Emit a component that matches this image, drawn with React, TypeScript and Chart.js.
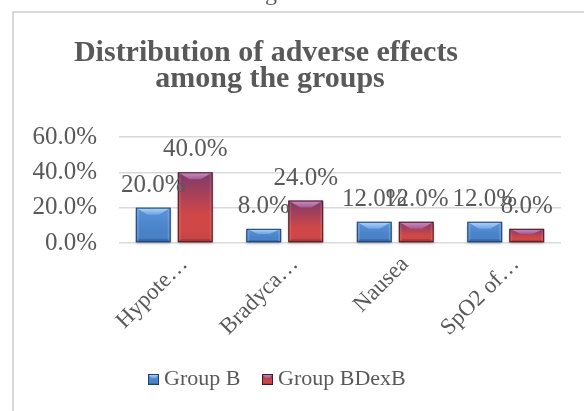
import { useEffect, useRef } from "react";
import { Chart, registerables } from "chart.js";

Chart.register(...registerables);

const categories = ["Hypote…", "Bradyca…", "Nausea", "SpO2 of…"];
const groupB = [20, 8, 12, 12];
const groupBDexB = [40, 24, 12, 8];
const seriesNames = ["Group B", "Group BDexB"];
const yTickValues = [0, 20, 40, 60];
const titleLines = ["Distribution of adverse effects", "among the groups"];

const FONT = "'Liberation Serif', 'Times New Roman', serif";
const TEXT = "#595959";

type Pal = {
  bodyTop: string;
  bodyMid: string;
  bodyBottom: string;
  fade: number;
  top: [string, string];
  side: string;
  bottom: string;
  outline: string;
};

const palettes: Pal[] = [
  {
    bodyTop: "#5A94DB",
    bodyMid: "#4A82C8",
    bodyBottom: "#3B6FB2",
    fade: 30,
    top: ["#B5D7FA", "#6CA4E4"],
    side: "rgba(255,255,255,0.14)",
    bottom: "#2C5A94",
    outline: "#22416A",
  },
  {
    bodyTop: "#7C3A6C",
    bodyMid: "#CF4747",
    bodyBottom: "#C24343",
    fade: 42,
    top: ["#CC92C6", "#A35A8E"],
    side: "rgba(255,255,255,0.10)",
    bottom: "#8C2E30",
    outline: "#4A1B22",
  },
];

function drawBevelBar(ctx: CanvasRenderingContext2D, l: number, t: number, r: number, b: number, p: Pal, shadow = true) {
  const w = r - l;
  const h = b - t;
  if (h <= 0) return;
  const d = Math.min(7, h * 0.38);
  const dx = Math.min(12, w * 0.34);
  const s = Math.min(3, w * 0.1);
  ctx.save();
  if (shadow) {
    ctx.shadowColor = "rgba(60,60,80,0.35)";
    ctx.shadowBlur = 3;
    ctx.shadowOffsetY = 2;
  }
  const g = ctx.createLinearGradient(0, t, 0, b);
  const fadeStop = Math.min(0.65, p.fade / h);
  g.addColorStop(0, p.bodyTop);
  g.addColorStop(fadeStop, p.bodyMid);
  g.addColorStop(Math.max(fadeStop, 0.85), p.bodyMid);
  g.addColorStop(1, p.bodyBottom);
  ctx.fillStyle = g;
  ctx.fillRect(l, t, w, h);
  ctx.restore();
  ctx.save();
  // side strips
  ctx.fillStyle = p.side;
  ctx.fillRect(l, t, s, h);
  ctx.fillRect(r - s, t, s, h);
  // top face
  const tg = ctx.createLinearGradient(0, t, 0, t + d);
  tg.addColorStop(0, p.top[0]);
  tg.addColorStop(1, p.top[1]);
  ctx.fillStyle = tg;
  ctx.beginPath();
  ctx.moveTo(l, t);
  ctx.lineTo(r, t);
  ctx.lineTo(r - dx, t + d);
  ctx.lineTo(l + dx, t + d);
  ctx.closePath();
  ctx.fill();
  // bottom face
  const bd = Math.min(3, h * 0.15);
  ctx.fillStyle = p.bottom;
  ctx.globalAlpha = 0.55;
  ctx.beginPath();
  ctx.moveTo(l, b);
  ctx.lineTo(l + s, b - bd);
  ctx.lineTo(r - s, b - bd);
  ctx.lineTo(r, b);
  ctx.closePath();
  ctx.fill();
  ctx.globalAlpha = 1;
  // outline
  ctx.strokeStyle = p.outline;
  ctx.lineWidth = 1;
  ctx.strokeRect(l + 0.5, t + 0.5, w - 1, h - 1);
  ctx.restore();
}

const decorPlugin = {
  id: "decor",
  beforeDraw(chart: any) {
    const ctx: CanvasRenderingContext2D = chart.ctx;
    ctx.save();
    ctx.fillStyle = "#ffffff";
    ctx.fillRect(0, 0, chart.width, chart.height);
    // fragment of text above the chart
    ctx.fillStyle = TEXT;
    ctx.font = `24px ${FONT}`;
    ctx.textAlign = "center";
    ctx.textBaseline = "alphabetic";
    ctx.fillText("g", 271, 0);
    // frame
    ctx.strokeStyle = "#D9D9D9";
    ctx.lineWidth = 2;
    ctx.beginPath();
    ctx.moveTo(13, chart.height + 2);
    ctx.lineTo(13, 12);
    ctx.lineTo(chart.width + 2, 12);
    ctx.stroke();
    ctx.restore();
  },
  afterDatasetsDraw(chart: any) {
    const ctx: CanvasRenderingContext2D = chart.ctx;
    chart.data.datasets.forEach((ds: any, di: number) => {
      const meta = chart.getDatasetMeta(di);
      meta.data.forEach((el: any) => {
        const { x, y, base, width } = el.getProps(["x", "y", "base", "width"], true);
        drawBevelBar(ctx, x - width / 2, y, x + width / 2, base, palettes[di]);
      });
    });
    ctx.save();
    ctx.fillStyle = TEXT;
    ctx.font = `25px ${FONT}`;
    ctx.textAlign = "center";
    ctx.textBaseline = "alphabetic";
    chart.data.datasets.forEach((ds: any, di: number) => {
      const meta = chart.getDatasetMeta(di);
      meta.data.forEach((el: any, i: number) => {
        const { x, y } = el.getProps(["x", "y"], true);
        ctx.fillText(ds.data[i].toFixed(1) + "%", x, y - 16);
      });
    });
    ctx.restore();
  },
  afterDraw(chart: any) {
    const ctx: CanvasRenderingContext2D = chart.ctx;
    ctx.save();
    ctx.fillStyle = TEXT;
    ctx.font = `bold 30px ${FONT}`;
    ctx.textAlign = "center";
    ctx.textBaseline = "alphabetic";
    ctx.fillText(titleLines[0], 266, 61);
    ctx.fillText(titleLines[1], 270, 87);
    // legend
    ctx.font = `22px ${FONT}`;
    ctx.textAlign = "left";
    const items = [
      { x: 148, name: seriesNames[0] },
      { x: 262, name: seriesNames[1] },
    ];
    items.forEach((it, i) => {
      drawBevelBar(ctx, it.x, 374, it.x + 11, 385, palettes[i], false);
      ctx.fillStyle = TEXT;
      ctx.fillText(it.name, it.x + 16, 385);
    });
    ctx.restore();
  },
};

export default function App() {
  const ref = useRef<HTMLCanvasElement>(null);
  useEffect(() => {
    if (!ref.current) return;
    const chart = new Chart(ref.current, {
      type: "bar",
      data: {
        labels: categories,
        datasets: [
          {
            label: seriesNames[0],
            data: groupB,
            backgroundColor: "rgba(0,0,0,0)",
            borderWidth: 0,
            categoryPercentage: 0.76,
            barPercentage: 0.83,
          },
          {
            label: seriesNames[1],
            data: groupBDexB,
            backgroundColor: "rgba(0,0,0,0)",
            borderWidth: 0,
            categoryPercentage: 0.76,
            barPercentage: 0.83,
          },
        ],
      },
      options: {
        animation: false,
        responsive: false,
        devicePixelRatio: 1,
        layout: { padding: { top: 137, left: 0, right: 23, bottom: 0 } },
        plugins: {
          legend: { display: false },
          title: { display: false },
          tooltip: { enabled: false },
        },
        scales: {
          x: {
            grid: { display: false, drawTicks: false },
            border: { display: false },
            ticks: {
              color: TEXT,
              font: { family: FONT, size: 23 },
              maxRotation: 45,
              minRotation: 45,
              autoSkip: false,
              padding: 8,
              labelOffset: 10,
            },
            afterFit(scale: any) {
              scale.height = 168;
            },
          },
          y: {
            min: 0,
            max: 60,
            afterBuildTicks(scale: any) {
              scale.ticks = yTickValues.map((v) => ({ value: v }));
            },
            grid: { color: "#D9D9D9", lineWidth: 1.5, drawTicks: false },
            border: { display: false },
            ticks: {
              color: TEXT,
              font: { family: FONT, size: 25 },
              padding: 22,
              callback: (v: any) => Number(v).toFixed(1) + "%",
            },
            afterFit(scale: any) {
              scale.width = 119;
            },
          },
        },
      },
      plugins: [decorPlugin],
    });
    return () => chart.destroy();
  }, []);
  return (
    <div style={{ position: "absolute", left: 0, top: 0, width: 584, height: 411 }}>
      <canvas ref={ref} width={584} height={411} style={{ display: "block", width: 584, height: 411 }} />
    </div>
  );
}
